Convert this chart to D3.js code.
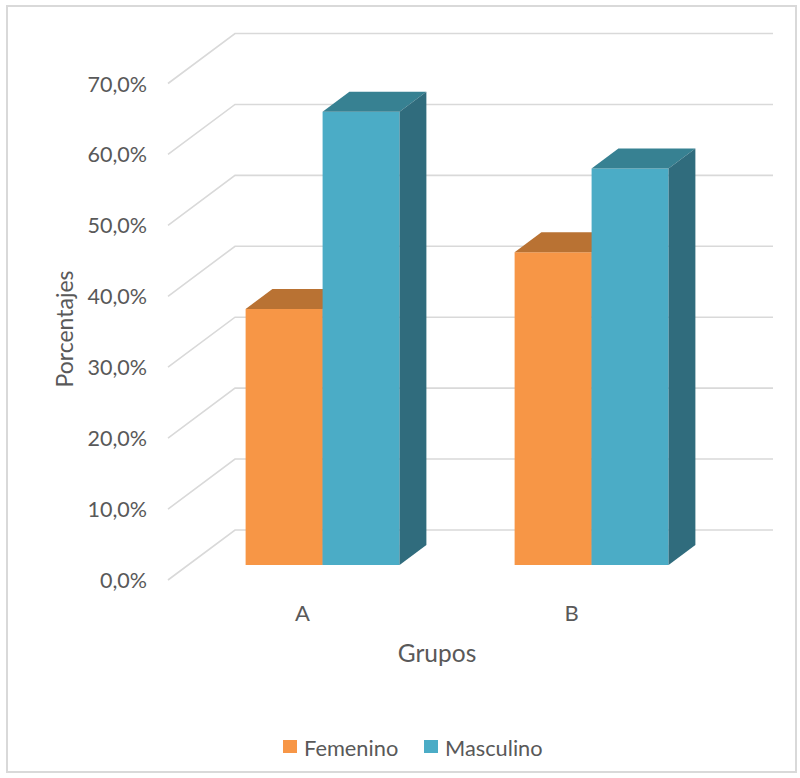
<!DOCTYPE html>
<html>
<head>
<meta charset="utf-8">
<script src="https://cdn.jsdelivr.net/npm/d3@7"></script>
<style>
  html, body { margin: 0; padding: 0; background: #ffffff; }
  svg { display: block; }
  text { font-family: "Lato", "Open Sans", sans-serif; fill: #595959; }
</style>
</head>
<body>
<svg id="chart" width="800" height="778"></svg>
<script>
// Survey results by group (share of respondents)
const categories = ["A", "B"];
const seriesNames = ["Femenino", "Masculino"];
const femenino = [0.361, 0.441];
const masculino = [0.639, 0.559];
const yTicks = [0, 0.1, 0.2, 0.3, 0.4, 0.5, 0.6, 0.7];

const values = [femenino, masculino];
const frontColors = ["#F79646", "#4BACC6"];
const topColors = ["#B97233", "#378192"];
const sideColors = ["#A8652B", "#306C7D"];

const svg = d3.select("#chart");

// outer frame
svg.append("rect")
  .attr("x", 7).attr("y", 6).attr("width", 789).attr("height", 766)
  .attr("fill", "#ffffff").attr("stroke", "#D9D9D9").attr("stroke-width", 2);

// oblique projection: full depth of the plot box
const DX = 67, DY = -50;
const depth = (t) => [DX * t, DY * t];

// front-plane scales
const x = d3.scaleBand().domain(categories).range([168, 706]).padding(0);
const xs = d3.scaleBand().domain(seriesNames).range([0, x.bandwidth()])
  .paddingInner(0).paddingOuter(0.747);
const y = d3.scaleLinear().domain([0, 0.7]).range([580, 83.5]);

const locale = d3.formatLocale({ decimal: ",", thousands: ".", grouping: [3], currency: ["", "€"] });
const fmt = locale.format(".1%");

// gridlines: floor diagonal + back wall
const grid = svg.append("g").attr("fill", "none")
  .attr("stroke", "#D9D9D9").attr("stroke-width", 1.6);
yTicks.forEach(v => {
  const [bx, by] = depth(1);
  const x0 = x.range()[0], x1 = x.range()[1];
  grid.append("path")
    .attr("d", `M${x0},${y(v)} L${x0 + bx},${y(v) + by} L${x1 + bx},${y(v) + by}`);
});

// y tick labels
svg.append("g").selectAll("text").data(yTicks).join("text")
  .attr("x", 147).attr("y", d => y(d))
  .attr("text-anchor", "end").attr("dominant-baseline", "central")
  .attr("font-size", 21.5)
  .text(d => fmt(d));

// 3D bars, placed between depth 0.3 and 0.7
const z0 = 0.3, z1 = 0.7;
const [fx, fy] = depth(z0);
const [ddx, ddy] = depth(z1 - z0);
const bars = svg.append("g");
categories.forEach((c, ci) => {
  seriesNames.forEach((s, si) => {
    const v = values[si][ci];
    const xl = x(c) + xs(s) + fx;
    const xr = xl + xs.bandwidth();
    const yt = y(v) + fy;
    const yb = y(0) + fy;
    const g = bars.append("g");
    // front face
    g.append("path")
      .attr("d", `M${xl},${yt} L${xr},${yt} L${xr},${yb} L${xl},${yb} Z`)
      .attr("fill", frontColors[si]);
    // top face
    g.append("path")
      .attr("d", `M${xl},${yt} L${xr},${yt} L${xr + ddx},${yt + ddy} L${xl + ddx},${yt + ddy} Z`)
      .attr("fill", topColors[si]);
    // right side face
    g.append("path")
      .attr("d", `M${xr},${yt} L${xr + ddx},${yt + ddy} L${xr + ddx},${yb + ddy} L${xr},${yb} Z`)
      .attr("fill", sideColors[si]);
  });
});

// category labels
svg.append("g").selectAll("text").data(categories).join("text")
  .attr("x", d => x(d) + x.bandwidth() / 2).attr("y", 612)
  .attr("text-anchor", "middle").attr("dominant-baseline", "central")
  .attr("font-size", 22)
  .text(d => d);

// axis titles
svg.append("text")
  .attr("x", (x.range()[0] + x.range()[1]) / 2).attr("y", 652)
  .attr("text-anchor", "middle").attr("dominant-baseline", "central")
  .attr("font-size", 24.5)
  .text("Grupos");

svg.append("text")
  .attr("transform", "translate(64,329) rotate(-90)")
  .attr("text-anchor", "middle").attr("dominant-baseline", "central")
  .attr("font-size", 23)
  .text("Porcentajes");

// legend
const legend = svg.append("g");
const legendX = [283, 424];
seriesNames.forEach((s, i) => {
  legend.append("rect")
    .attr("x", legendX[i]).attr("y", 740).attr("width", 14).attr("height", 13)
    .attr("fill", frontColors[i]);
  legend.append("text")
    .attr("x", legendX[i] + 21).attr("y", 747)
    .attr("dominant-baseline", "central")
    .attr("font-size", 21.8)
    .text(s);
});
</script>
</body>
</html>
